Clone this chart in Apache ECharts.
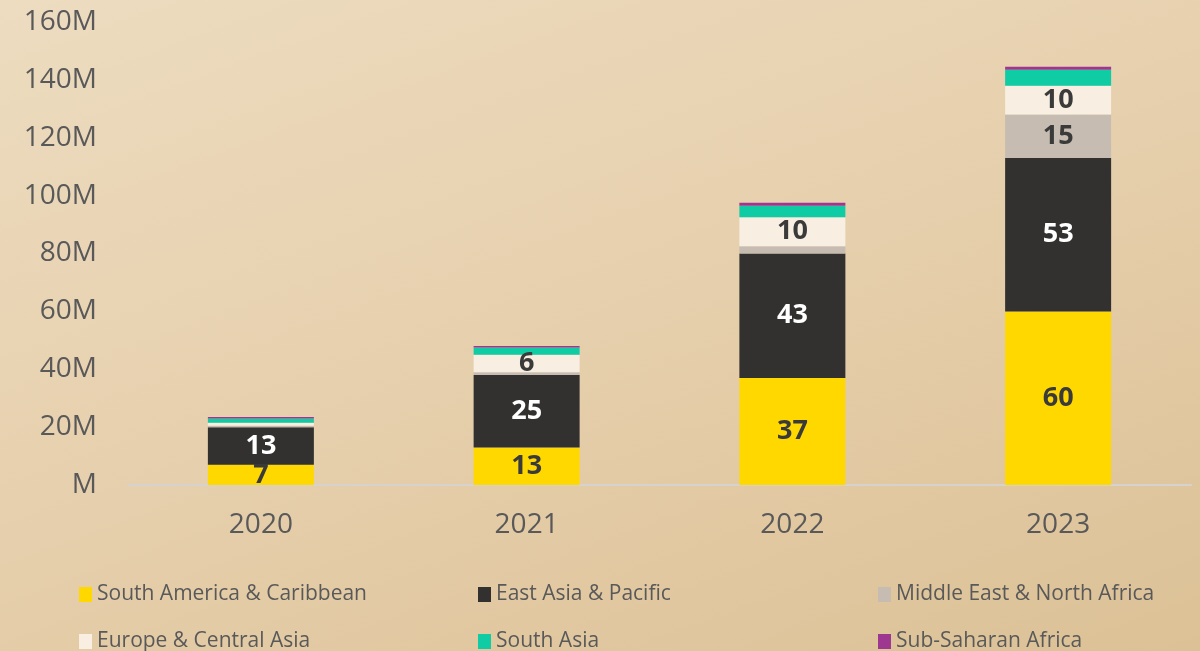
<!DOCTYPE html>
<html>
<head>
<meta charset="utf-8">
<script src="https://cdn.jsdelivr.net/npm/echarts@6/dist/echarts.min.js"></script>
<style>
  html, body { margin: 0; padding: 0; }
  body { background: linear-gradient(160deg, #eddcc0 0%, #e6cfac 50%, #dcc196 100%); }
  #main { width: 1200px; height: 651px; }
</style>
</head>
<body>
<div id="main"></div>
<script>
// values in millions
var years = ['2020', '2021', '2022', '2023'];
var southAmerica = [7, 13, 37, 60];
var eastAsia = [13, 25, 43, 53];
var middleEast = [0.5, 1, 2.5, 15];
var europe = [1, 6, 10, 10];
var southAsia = [1.5, 2.5, 4, 5.5];
var subSaharan = [0.5, 0.5, 1, 1];

var names = ['South America & Caribbean', 'East Asia & Pacific', 'Middle East & North Africa',
	'Europe & Central Asia', 'South Asia', 'Sub-Saharan Africa'];
var colors = ['#ffd800', '#323130', '#c6bcb1', '#f8eee2', '#10cca4', '#9e3790'];
var allData = [southAmerica, eastAsia, middleEast, europe, southAsia, subSaharan];

var myChart = echarts.init(document.getElementById('main'), null, { renderer: 'canvas' });

var series = names.map(function (n, i) {
	return {
		name: n,
		type: 'bar',
		stack: 'total',
		barWidth: 106,
		data: allData[i],
		itemStyle: { color: colors[i] },
		label: {
			show: true,
			position: 'inside',
			fontFamily: 'Open Sans',
			fontWeight: 'bold',
			fontSize: 27,
			color: i == 1 ? '#ffffff' : '#3a3a3a',
			formatter: function (p) {
				return p.value >= 6 ? p.value : '';
			}
		}
	};
});

// one legend per item, 3 columns x 2 rows
var legendLeft = [79, 478, 878];
var legendTop = [584, 631];
var legends = names.map(function (n, i) {
	return {
		left: legendLeft[i % 3],
		top: legendTop[Math.floor(i / 3)],
		padding: 0,
		itemWidth: 13,
		itemHeight: 15,
		icon: 'rect',
		data: [n],
		textStyle: { fontFamily: 'Open Sans', fontSize: 21, color: '#595959' }
	};
});

var option = {
	backgroundColor: 'transparent',
	animation: false,
	grid: { left: 128, right: 9, top: 22, bottom: 166 },
	legend: legends,
	xAxis: {
		type: 'category',
		data: years,
		axisLine: { lineStyle: { color: '#d6d3cf', width: 2 } },
		axisTick: { show: false },
		axisLabel: { fontFamily: 'Open Sans', fontSize: 28, color: '#595959', margin: 26 }
	},
	yAxis: {
		type: 'value',
		min: 0,
		max: 160,
		interval: 20,
		splitLine: { show: false },
		axisLine: { show: false },
		axisLabel: {
			fontFamily: 'Open Sans',
			fontSize: 28,
			color: '#595959',
			margin: 31,
			formatter: function (v) { return v == 0 ? 'M' : v + 'M'; }
		}
	},
	series: series
};

myChart.setOption(option);
</script>
</body>
</html>
